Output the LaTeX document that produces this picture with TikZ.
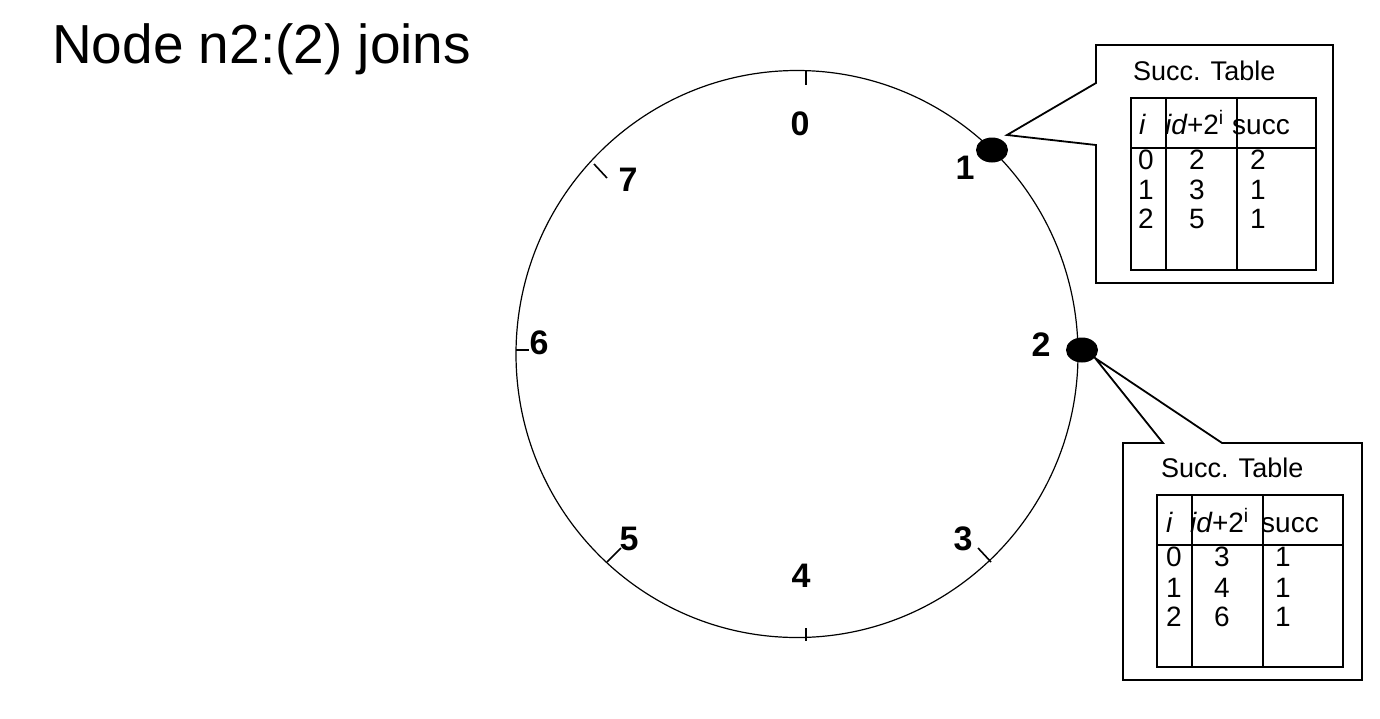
\documentclass[tikz,border=0pt]{standalone}
\usepackage{fontspec}
\setmainfont{Liberation Sans}
\usetikzlibrary{shapes.geometric}
\begin{document}
\begin{tikzpicture}[x=1pt,y=-1pt,
  ring/.style={draw, ellipse, line width=1.2pt, minimum width=562pt, minimum height=567pt, inner sep=0pt},
  peer/.style={fill=black, ellipse, minimum width=32pt, minimum height=25pt, inner sep=0pt},
  tickmark/.style={line width=1.6pt},
  idlabel/.style={font=\fontsize{34}{38}\selectfont\bfseries, inner sep=0pt},
  callout/.style={draw, line width=1.8pt, line join=miter},
  tbl/.style={line width=1.8pt},
  ttl/.style={font=\fontsize{27}{31}\selectfont, anchor=base west, inner sep=0pt},
  cell/.style={font=\fontsize{28}{32}\selectfont, inner sep=0pt},
  hcell/.style={cell, anchor=base west},
]
\useasboundingbox (0,0) rectangle (1380,718);

% title
\node[anchor=base west, inner sep=0pt, font=\fontsize{55}{60}\selectfont] (title) at (52,63) {Node n2:(2) joins};

% ring
\node[ring] (ring) at (797,354) {};

% ticks
\draw[tickmark] (806,70) -- (806,85);
\draw[tickmark] (806,628) -- (806,641);
\draw[tickmark] (516,350) -- (529,350);
\draw[tickmark] (594,164) -- (607,178);
\draw[tickmark] (607,562) -- (621,548);
\draw[tickmark] (978,548) -- (991,562);

% id labels
\node[idlabel] (l0) at (800,124) {0};
\node[idlabel] (l1) at (965,168) {1};
\node[idlabel] (l2) at (1041,345) {2};
\node[idlabel] (l3) at (963,539) {3};
\node[idlabel] (l4) at (801,576) {4};
\node[idlabel] (l5) at (629,539) {5};
\node[idlabel] (l6) at (539,343) {6};
\node[idlabel] (l7) at (628,180) {7};

% callout 1
\coordinate (tip1) at (1007,135);
\draw[callout] (1096,45) -- (1333,45) -- (1333,283) -- (1096,283) -- (1096,145) -- (tip1) -- (1096,83) -- cycle;
\node[ttl] (t1) at (1133,80) {Succ. Table};
\draw[tbl] (1131,98) rectangle (1316,270);
\draw[tbl] (1131,148) -- (1316,148);
\draw[tbl] (1166,98) -- (1166,270);
\draw[tbl] (1237,98) -- (1237,270);
\node[hcell] (h1a) at (1139,134) {\itshape i};
\node[hcell] (h1b) at (1165,134) {\itshape id\upshape +2\textsuperscript{i}};
\node[hcell] (h1c) at (1232,134) {succ};
\node[cell] at (1146,160) {0};
\node[cell] at (1197,160) {2};
\node[cell] at (1258,160) {2};
\node[cell] at (1146,190) {1};
\node[cell] at (1197,190) {3};
\node[cell] at (1258,190) {1};
\node[cell] at (1146,219) {2};
\node[cell] at (1197,219) {5};
\node[cell] at (1258,219) {1};

% callout 2
\coordinate (tip2) at (1095,358);
\draw[callout] (1123,443) -- (1163,443) -- (tip2) -- (1222,443) -- (1362,443) -- (1362,680) -- (1123,680) -- cycle;
\node[ttl] (t2) at (1161,477) {Succ. Table};
\draw[tbl] (1157,495) rectangle (1343,667);
\draw[tbl] (1157,545) -- (1343,545);
\draw[tbl] (1192,495) -- (1192,667);
\draw[tbl] (1263,495) -- (1263,667);
\node[hcell] (h2a) at (1166,532) {\itshape i};
\node[hcell] (h2b) at (1190,532) {\itshape id\upshape +2\textsuperscript{i}};
\node[hcell] (h2c) at (1261,532) {succ};
\node[cell] at (1174,557) {0};
\node[cell] at (1222,557) {3};
\node[cell] at (1283,557) {1};
\node[cell] at (1174,588) {1};
\node[cell] at (1222,588) {4};
\node[cell] at (1283,588) {1};
\node[cell] at (1174,617) {2};
\node[cell] at (1222,617) {6};
\node[cell] at (1283,617) {1};

% peers
\node[peer] (n1) at (992,150) {};
\node[peer] (n2) at (1082,350) {};
\end{tikzpicture}
\end{document}
